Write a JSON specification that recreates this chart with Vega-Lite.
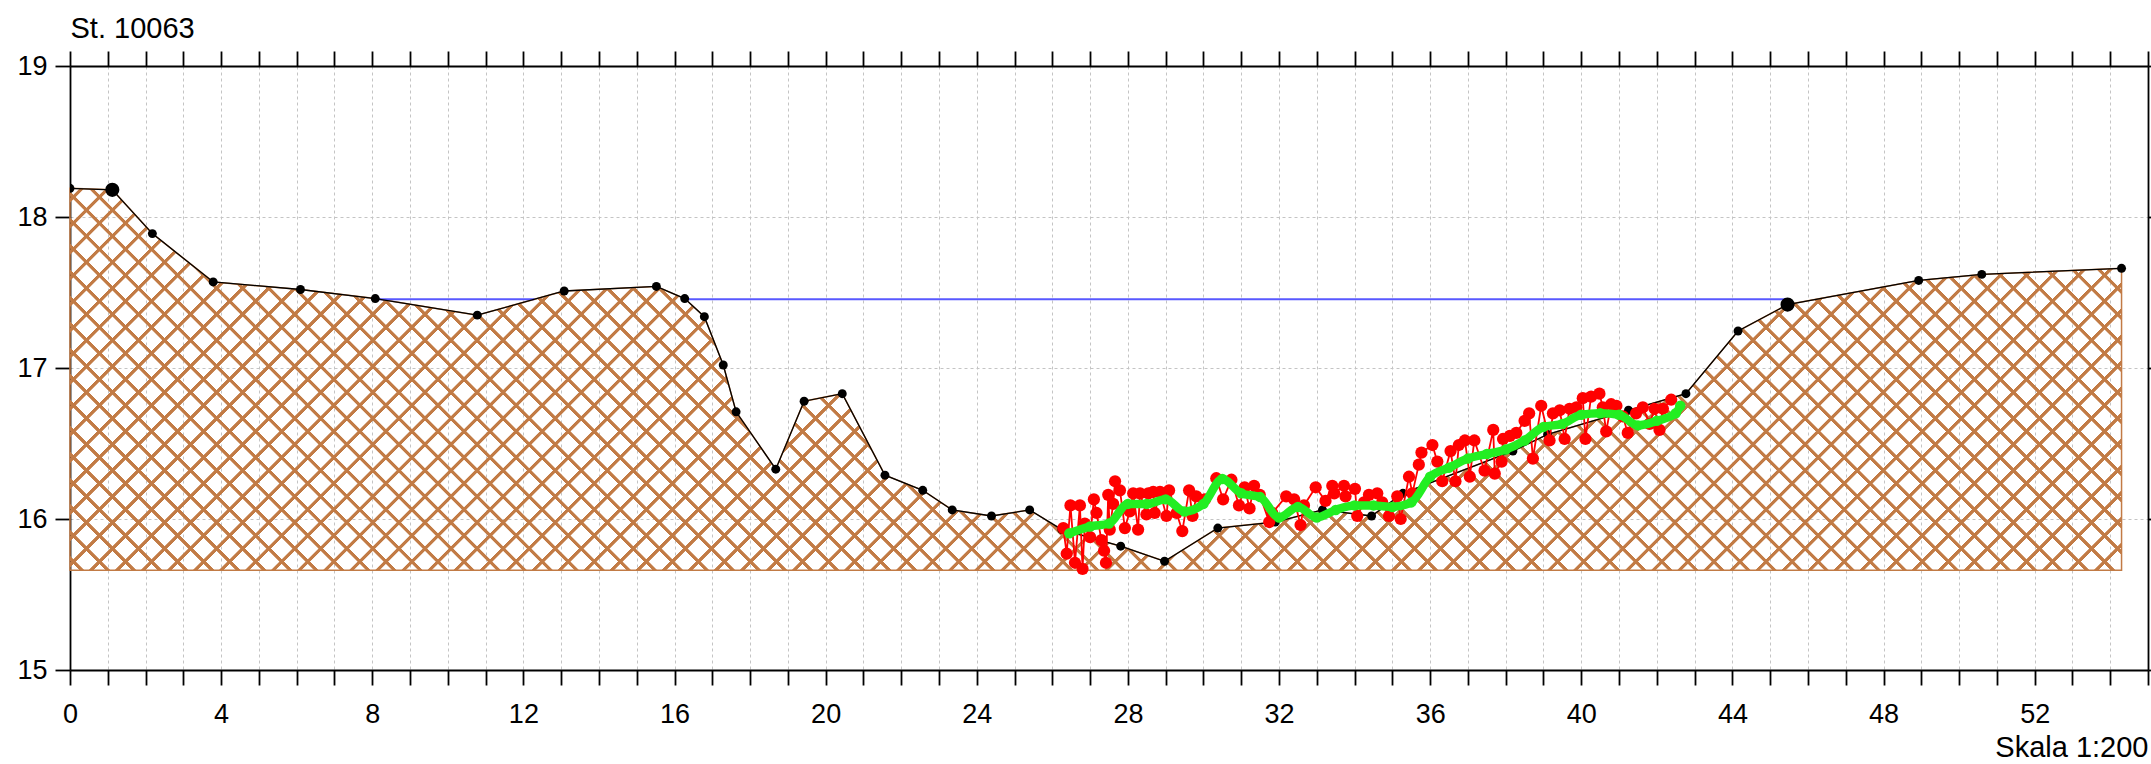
{
"$schema":"https://vega.github.io/schema/vega-lite/v6.json",
"width":2078,"height":604,
"autosize":{"type":"none"},
"padding":{"left":70,"top":66,"right":3,"bottom":94},
"background":"white",
"config":{"view":{"stroke":null},"font":"Liberation Sans",
"axis":{"domainColor":"#000000","domainWidth":1.8,"tickColor":"#000000","tickWidth":1.8,"labelFont":"Liberation Sans","labelFontSize":27,"labelColor":"#000000","titleFont":"Liberation Sans","titleColor":"#000000","gridColor":"#c4c4c4","gridDash":[3,3],"gridWidth":1}},
"datasets":{
"terrain":[{"x":0,"y":18.19,"b":0},{"x":1.12,"y":18.18,"b":1},{"x":2.18,"y":17.89,"b":0},{"x":3.79,"y":17.57,"b":0},{"x":6.1,"y":17.52,"b":0},{"x":8.08,"y":17.46,"b":0},{"x":10.78,"y":17.35,"b":0},{"x":13.08,"y":17.51,"b":0},{"x":15.52,"y":17.54,"b":0},{"x":16.27,"y":17.46,"b":0},{"x":16.79,"y":17.34,"b":0},{"x":17.29,"y":17.02,"b":0},{"x":17.63,"y":16.71,"b":0},{"x":18.68,"y":16.33,"b":0},{"x":19.43,"y":16.78,"b":0},{"x":20.44,"y":16.83,"b":0},{"x":21.57,"y":16.29,"b":0},{"x":22.57,"y":16.19,"b":0},{"x":23.35,"y":16.06,"b":0},{"x":24.39,"y":16.02,"b":0},{"x":25.4,"y":16.06,"b":0},{"x":26.25,"y":15.93,"b":0},{"x":27.81,"y":15.82,"b":0},{"x":28.97,"y":15.72,"b":0},{"x":30.38,"y":15.94,"b":0},{"x":31.9,"y":15.98,"b":0},{"x":33.15,"y":16.06,"b":0},{"x":34.45,"y":16.02,"b":0},{"x":35.28,"y":16.17,"b":0},{"x":38.19,"y":16.45,"b":0},{"x":39.11,"y":16.56,"b":0},{"x":41.25,"y":16.72,"b":0},{"x":42.77,"y":16.83,"b":0},{"x":44.15,"y":17.245,"b":0},{"x":45.46,"y":17.42,"b":1},{"x":48.93,"y":17.58,"b":0},{"x":50.6,"y":17.62,"b":0},{"x":54.3,"y":17.66,"b":0}],
"water":[{"x":8.08,"y":17.455,"s":1},{"x":12.29,"y":17.455,"s":1},{"x":16.27,"y":17.455,"s":2},{"x":45.46,"y":17.455,"s":2}],
"red":[{"x":26.29,"y":15.94},{"x":26.38,"y":15.77},{"x":26.48,"y":16.09},{"x":26.6,"y":15.71},{"x":26.73,"y":16.09},{"x":26.8,"y":15.67},{"x":26.86,"y":15.97},{"x":27.0,"y":15.88},{"x":27.1,"y":16.13},{"x":27.17,"y":16.04},{"x":27.3,"y":15.86},{"x":27.37,"y":15.79},{"x":27.42,"y":15.71},{"x":27.48,"y":16.16},{"x":27.52,"y":15.93},{"x":27.61,"y":16.1},{"x":27.66,"y":16.25},{"x":27.79,"y":16.19},{"x":27.92,"y":15.94},{"x":28.05,"y":16.05},{"x":28.14,"y":16.17},{"x":28.27,"y":15.93},{"x":28.32,"y":16.17},{"x":28.49,"y":16.03},{"x":28.54,"y":16.17},{"x":28.67,"y":16.18},{"x":28.71,"y":16.04},{"x":28.85,"y":16.18},{"x":29.02,"y":16.02},{"x":29.09,"y":16.19},{"x":29.29,"y":16.04},{"x":29.44,"y":15.92},{"x":29.62,"y":16.19},{"x":29.71,"y":16.02},{"x":29.81,"y":16.15},{"x":30.04,"y":16.13},{"x":30.34,"y":16.27},{"x":30.52,"y":16.13},{"x":30.74,"y":16.26},{"x":30.94,"y":16.09},{"x":31.09,"y":16.21},{"x":31.22,"y":16.07},{"x":31.34,"y":16.22},{"x":31.49,"y":16.16},{"x":31.74,"y":15.98},{"x":31.82,"y":16.04},{"x":32.19,"y":16.15},{"x":32.4,"y":16.13},{"x":32.57,"y":15.96},{"x":32.66,"y":16.09},{"x":32.97,"y":16.21},{"x":33.23,"y":16.12},{"x":33.41,"y":16.22},{"x":33.46,"y":16.17},{"x":33.72,"y":16.22},{"x":33.76,"y":16.15},{"x":34.01,"y":16.2},{"x":34.07,"y":16.02},{"x":34.25,"y":16.11},{"x":34.38,"y":16.16},{"x":34.6,"y":16.17},{"x":34.73,"y":16.11},{"x":34.91,"y":16.02},{"x":35.13,"y":16.15},{"x":35.22,"y":16.0},{"x":35.44,"y":16.28},{"x":35.53,"y":16.17},{"x":35.7,"y":16.36},{"x":35.77,"y":16.44},{"x":36.06,"y":16.49},{"x":36.19,"y":16.38},{"x":36.32,"y":16.25},{"x":36.54,"y":16.45},{"x":36.67,"y":16.25},{"x":36.76,"y":16.49},{"x":36.92,"y":16.52},{"x":37.05,"y":16.28},{"x":37.17,"y":16.52},{"x":37.44,"y":16.32},{"x":37.67,"y":16.59},{"x":37.71,"y":16.3},{"x":37.89,"y":16.38},{"x":37.93,"y":16.53},{"x":38.11,"y":16.55},{"x":38.28,"y":16.57},{"x":38.5,"y":16.65},{"x":38.62,"y":16.7},{"x":38.72,"y":16.4},{"x":38.94,"y":16.75},{"x":39.16,"y":16.52},{"x":39.25,"y":16.7},{"x":39.43,"y":16.72},{"x":39.56,"y":16.53},{"x":39.69,"y":16.73},{"x":39.87,"y":16.74},{"x":40.04,"y":16.8},{"x":40.11,"y":16.53},{"x":40.26,"y":16.81},{"x":40.48,"y":16.83},{"x":40.57,"y":16.74},{"x":40.66,"y":16.58},{"x":40.79,"y":16.76},{"x":40.93,"y":16.75},{"x":41.1,"y":16.68},{"x":41.23,"y":16.57},{"x":41.45,"y":16.7},{"x":41.63,"y":16.74},{"x":41.81,"y":16.63},{"x":41.94,"y":16.73},{"x":42.07,"y":16.59},{"x":42.16,"y":16.73},{"x":42.38,"y":16.79}],
"green":[{"x":26.45,"y":15.905},{"x":27.0,"y":15.95},{"x":27.5,"y":15.97},{"x":28.0,"y":16.1},{"x":28.5,"y":16.1},{"x":29.0,"y":16.13},{"x":29.5,"y":16.05},{"x":30.0,"y":16.1},{"x":30.5,"y":16.265},{"x":31.0,"y":16.17},{"x":31.5,"y":16.145},{"x":32.0,"y":16.01},{"x":32.5,"y":16.08},{"x":33.0,"y":16.01},{"x":33.5,"y":16.06},{"x":34.0,"y":16.09},{"x":34.5,"y":16.09},{"x":35.0,"y":16.08},{"x":35.5,"y":16.11},{"x":36.0,"y":16.28},{"x":36.5,"y":16.34},{"x":37.0,"y":16.4},{"x":37.5,"y":16.43},{"x":38.0,"y":16.46},{"x":38.5,"y":16.52},{"x":39.0,"y":16.61},{"x":39.5,"y":16.63},{"x":40.0,"y":16.69},{"x":40.5,"y":16.7},{"x":41.0,"y":16.69},{"x":41.5,"y":16.62},{"x":42.0,"y":16.65},{"x":42.5,"y":16.7},{"x":42.62,"y":16.75}]
},
"layer":[
{"data":{"name":"terrain"},
"mark":{"type":"area","stroke":"#c27b45","strokeWidth":1.5,"fill":{"gradient":"linear","x1":0,"y1":0,"x2":1.1465,"y2":0.2135,"stops":[
{"offset":0.0039,"color":"#c27b4500"},{"offset":0.0042,"color":"#c27b45"},{"offset":0.0058,"color":"#c27b45"},{"offset":0.0061,"color":"#c27b4500"},
{"offset":0.0146,"color":"#c27b4500"},{"offset":0.0149,"color":"#c27b45"},{"offset":0.0165,"color":"#c27b45"},{"offset":0.0168,"color":"#c27b4500"},
{"offset":0.0253,"color":"#c27b4500"},{"offset":0.0256,"color":"#c27b45"},{"offset":0.0272,"color":"#c27b45"},{"offset":0.0275,"color":"#c27b4500"},
{"offset":0.036,"color":"#c27b4500"},{"offset":0.0363,"color":"#c27b45"},{"offset":0.0379,"color":"#c27b45"},{"offset":0.0382,"color":"#c27b4500"},
{"offset":0.0467,"color":"#c27b4500"},{"offset":0.047,"color":"#c27b45"},{"offset":0.0486,"color":"#c27b45"},{"offset":0.0489,"color":"#c27b4500"},
{"offset":0.0574,"color":"#c27b4500"},{"offset":0.0577,"color":"#c27b45"},{"offset":0.0593,"color":"#c27b45"},{"offset":0.0596,"color":"#c27b4500"},
{"offset":0.0681,"color":"#c27b4500"},{"offset":0.0684,"color":"#c27b45"},{"offset":0.07,"color":"#c27b45"},{"offset":0.0703,"color":"#c27b4500"},
{"offset":0.0788,"color":"#c27b4500"},{"offset":0.0791,"color":"#c27b45"},{"offset":0.0807,"color":"#c27b45"},{"offset":0.081,"color":"#c27b4500"},
{"offset":0.0895,"color":"#c27b4500"},{"offset":0.0898,"color":"#c27b45"},{"offset":0.0914,"color":"#c27b45"},{"offset":0.0917,"color":"#c27b4500"},
{"offset":0.1002,"color":"#c27b4500"},{"offset":0.1005,"color":"#c27b45"},{"offset":0.1021,"color":"#c27b45"},{"offset":0.1024,"color":"#c27b4500"},
{"offset":0.1109,"color":"#c27b4500"},{"offset":0.1112,"color":"#c27b45"},{"offset":0.1128,"color":"#c27b45"},{"offset":0.1131,"color":"#c27b4500"},
{"offset":0.1216,"color":"#c27b4500"},{"offset":0.1219,"color":"#c27b45"},{"offset":0.1235,"color":"#c27b45"},{"offset":0.1238,"color":"#c27b4500"},
{"offset":0.1323,"color":"#c27b4500"},{"offset":0.1326,"color":"#c27b45"},{"offset":0.1342,"color":"#c27b45"},{"offset":0.1345,"color":"#c27b4500"},
{"offset":0.143,"color":"#c27b4500"},{"offset":0.1433,"color":"#c27b45"},{"offset":0.1449,"color":"#c27b45"},{"offset":0.1452,"color":"#c27b4500"},
{"offset":0.1537,"color":"#c27b4500"},{"offset":0.154,"color":"#c27b45"},{"offset":0.1556,"color":"#c27b45"},{"offset":0.1559,"color":"#c27b4500"},
{"offset":0.1644,"color":"#c27b4500"},{"offset":0.1647,"color":"#c27b45"},{"offset":0.1663,"color":"#c27b45"},{"offset":0.1666,"color":"#c27b4500"},
{"offset":0.1751,"color":"#c27b4500"},{"offset":0.1754,"color":"#c27b45"},{"offset":0.177,"color":"#c27b45"},{"offset":0.1773,"color":"#c27b4500"},
{"offset":0.1858,"color":"#c27b4500"},{"offset":0.1861,"color":"#c27b45"},{"offset":0.1877,"color":"#c27b45"},{"offset":0.188,"color":"#c27b4500"},
{"offset":0.1965,"color":"#c27b4500"},{"offset":0.1968,"color":"#c27b45"},{"offset":0.1984,"color":"#c27b45"},{"offset":0.1987,"color":"#c27b4500"},
{"offset":0.2072,"color":"#c27b4500"},{"offset":0.2075,"color":"#c27b45"},{"offset":0.2091,"color":"#c27b45"},{"offset":0.2094,"color":"#c27b4500"},
{"offset":0.2179,"color":"#c27b4500"},{"offset":0.2182,"color":"#c27b45"},{"offset":0.2198,"color":"#c27b45"},{"offset":0.2201,"color":"#c27b4500"},
{"offset":0.2286,"color":"#c27b4500"},{"offset":0.2289,"color":"#c27b45"},{"offset":0.2305,"color":"#c27b45"},{"offset":0.2308,"color":"#c27b4500"},
{"offset":0.2393,"color":"#c27b4500"},{"offset":0.2396,"color":"#c27b45"},{"offset":0.2412,"color":"#c27b45"},{"offset":0.2415,"color":"#c27b4500"},
{"offset":0.25,"color":"#c27b4500"},{"offset":0.2503,"color":"#c27b45"},{"offset":0.2519,"color":"#c27b45"},{"offset":0.2522,"color":"#c27b4500"},
{"offset":0.2607,"color":"#c27b4500"},{"offset":0.261,"color":"#c27b45"},{"offset":0.2626,"color":"#c27b45"},{"offset":0.2629,"color":"#c27b4500"},
{"offset":0.2714,"color":"#c27b4500"},{"offset":0.2717,"color":"#c27b45"},{"offset":0.2733,"color":"#c27b45"},{"offset":0.2736,"color":"#c27b4500"},
{"offset":0.2821,"color":"#c27b4500"},{"offset":0.2824,"color":"#c27b45"},{"offset":0.284,"color":"#c27b45"},{"offset":0.2843,"color":"#c27b4500"},
{"offset":0.2928,"color":"#c27b4500"},{"offset":0.2931,"color":"#c27b45"},{"offset":0.2947,"color":"#c27b45"},{"offset":0.295,"color":"#c27b4500"},
{"offset":0.3035,"color":"#c27b4500"},{"offset":0.3038,"color":"#c27b45"},{"offset":0.3054,"color":"#c27b45"},{"offset":0.3057,"color":"#c27b4500"},
{"offset":0.3142,"color":"#c27b4500"},{"offset":0.3145,"color":"#c27b45"},{"offset":0.3161,"color":"#c27b45"},{"offset":0.3164,"color":"#c27b4500"},
{"offset":0.3249,"color":"#c27b4500"},{"offset":0.3252,"color":"#c27b45"},{"offset":0.3268,"color":"#c27b45"},{"offset":0.3271,"color":"#c27b4500"},
{"offset":0.3356,"color":"#c27b4500"},{"offset":0.3359,"color":"#c27b45"},{"offset":0.3375,"color":"#c27b45"},{"offset":0.3378,"color":"#c27b4500"},
{"offset":0.3463,"color":"#c27b4500"},{"offset":0.3466,"color":"#c27b45"},{"offset":0.3482,"color":"#c27b45"},{"offset":0.3485,"color":"#c27b4500"},
{"offset":0.357,"color":"#c27b4500"},{"offset":0.3573,"color":"#c27b45"},{"offset":0.3589,"color":"#c27b45"},{"offset":0.3592,"color":"#c27b4500"},
{"offset":0.3677,"color":"#c27b4500"},{"offset":0.368,"color":"#c27b45"},{"offset":0.3696,"color":"#c27b45"},{"offset":0.3699,"color":"#c27b4500"},
{"offset":0.3784,"color":"#c27b4500"},{"offset":0.3787,"color":"#c27b45"},{"offset":0.3803,"color":"#c27b45"},{"offset":0.3806,"color":"#c27b4500"},
{"offset":0.3891,"color":"#c27b4500"},{"offset":0.3894,"color":"#c27b45"},{"offset":0.391,"color":"#c27b45"},{"offset":0.3913,"color":"#c27b4500"},
{"offset":0.3998,"color":"#c27b4500"},{"offset":0.4001,"color":"#c27b45"},{"offset":0.4017,"color":"#c27b45"},{"offset":0.402,"color":"#c27b4500"},
{"offset":0.4105,"color":"#c27b4500"},{"offset":0.4108,"color":"#c27b45"},{"offset":0.4124,"color":"#c27b45"},{"offset":0.4127,"color":"#c27b4500"},
{"offset":0.4212,"color":"#c27b4500"},{"offset":0.4215,"color":"#c27b45"},{"offset":0.4231,"color":"#c27b45"},{"offset":0.4234,"color":"#c27b4500"},
{"offset":0.4319,"color":"#c27b4500"},{"offset":0.4322,"color":"#c27b45"},{"offset":0.4338,"color":"#c27b45"},{"offset":0.4341,"color":"#c27b4500"},
{"offset":0.4426,"color":"#c27b4500"},{"offset":0.4429,"color":"#c27b45"},{"offset":0.4445,"color":"#c27b45"},{"offset":0.4448,"color":"#c27b4500"},
{"offset":0.4533,"color":"#c27b4500"},{"offset":0.4536,"color":"#c27b45"},{"offset":0.4552,"color":"#c27b45"},{"offset":0.4555,"color":"#c27b4500"},
{"offset":0.464,"color":"#c27b4500"},{"offset":0.4643,"color":"#c27b45"},{"offset":0.4659,"color":"#c27b45"},{"offset":0.4662,"color":"#c27b4500"},
{"offset":0.4747,"color":"#c27b4500"},{"offset":0.475,"color":"#c27b45"},{"offset":0.4766,"color":"#c27b45"},{"offset":0.4769,"color":"#c27b4500"},
{"offset":0.4854,"color":"#c27b4500"},{"offset":0.4857,"color":"#c27b45"},{"offset":0.4873,"color":"#c27b45"},{"offset":0.4876,"color":"#c27b4500"},
{"offset":0.4961,"color":"#c27b4500"},{"offset":0.4964,"color":"#c27b45"},{"offset":0.498,"color":"#c27b45"},{"offset":0.4983,"color":"#c27b4500"},
{"offset":0.5068,"color":"#c27b4500"},{"offset":0.5071,"color":"#c27b45"},{"offset":0.5087,"color":"#c27b45"},{"offset":0.509,"color":"#c27b4500"},
{"offset":0.5175,"color":"#c27b4500"},{"offset":0.5178,"color":"#c27b45"},{"offset":0.5194,"color":"#c27b45"},{"offset":0.5197,"color":"#c27b4500"},
{"offset":0.5282,"color":"#c27b4500"},{"offset":0.5285,"color":"#c27b45"},{"offset":0.5301,"color":"#c27b45"},{"offset":0.5304,"color":"#c27b4500"},
{"offset":0.5389,"color":"#c27b4500"},{"offset":0.5392,"color":"#c27b45"},{"offset":0.5408,"color":"#c27b45"},{"offset":0.5411,"color":"#c27b4500"},
{"offset":0.5496,"color":"#c27b4500"},{"offset":0.5499,"color":"#c27b45"},{"offset":0.5515,"color":"#c27b45"},{"offset":0.5518,"color":"#c27b4500"},
{"offset":0.5603,"color":"#c27b4500"},{"offset":0.5606,"color":"#c27b45"},{"offset":0.5622,"color":"#c27b45"},{"offset":0.5625,"color":"#c27b4500"},
{"offset":0.571,"color":"#c27b4500"},{"offset":0.5713,"color":"#c27b45"},{"offset":0.5729,"color":"#c27b45"},{"offset":0.5732,"color":"#c27b4500"},
{"offset":0.5817,"color":"#c27b4500"},{"offset":0.582,"color":"#c27b45"},{"offset":0.5836,"color":"#c27b45"},{"offset":0.5839,"color":"#c27b4500"},
{"offset":0.5924,"color":"#c27b4500"},{"offset":0.5927,"color":"#c27b45"},{"offset":0.5943,"color":"#c27b45"},{"offset":0.5946,"color":"#c27b4500"},
{"offset":0.6031,"color":"#c27b4500"},{"offset":0.6034,"color":"#c27b45"},{"offset":0.605,"color":"#c27b45"},{"offset":0.6053,"color":"#c27b4500"},
{"offset":0.6138,"color":"#c27b4500"},{"offset":0.6141,"color":"#c27b45"},{"offset":0.6157,"color":"#c27b45"},{"offset":0.616,"color":"#c27b4500"},
{"offset":0.6245,"color":"#c27b4500"},{"offset":0.6248,"color":"#c27b45"},{"offset":0.6264,"color":"#c27b45"},{"offset":0.6267,"color":"#c27b4500"},
{"offset":0.6352,"color":"#c27b4500"},{"offset":0.6355,"color":"#c27b45"},{"offset":0.6371,"color":"#c27b45"},{"offset":0.6374,"color":"#c27b4500"},
{"offset":0.6459,"color":"#c27b4500"},{"offset":0.6462,"color":"#c27b45"},{"offset":0.6478,"color":"#c27b45"},{"offset":0.6481,"color":"#c27b4500"},
{"offset":0.6566,"color":"#c27b4500"},{"offset":0.6569,"color":"#c27b45"},{"offset":0.6585,"color":"#c27b45"},{"offset":0.6588,"color":"#c27b4500"},
{"offset":0.6673,"color":"#c27b4500"},{"offset":0.6676,"color":"#c27b45"},{"offset":0.6692,"color":"#c27b45"},{"offset":0.6695,"color":"#c27b4500"},
{"offset":0.678,"color":"#c27b4500"},{"offset":0.6783,"color":"#c27b45"},{"offset":0.6799,"color":"#c27b45"},{"offset":0.6802,"color":"#c27b4500"},
{"offset":0.6887,"color":"#c27b4500"},{"offset":0.689,"color":"#c27b45"},{"offset":0.6906,"color":"#c27b45"},{"offset":0.6909,"color":"#c27b4500"},
{"offset":0.6994,"color":"#c27b4500"},{"offset":0.6997,"color":"#c27b45"},{"offset":0.7013,"color":"#c27b45"},{"offset":0.7016,"color":"#c27b4500"},
{"offset":0.7101,"color":"#c27b4500"},{"offset":0.7104,"color":"#c27b45"},{"offset":0.712,"color":"#c27b45"},{"offset":0.7123,"color":"#c27b4500"},
{"offset":0.7208,"color":"#c27b4500"},{"offset":0.7211,"color":"#c27b45"},{"offset":0.7227,"color":"#c27b45"},{"offset":0.723,"color":"#c27b4500"},
{"offset":0.7315,"color":"#c27b4500"},{"offset":0.7318,"color":"#c27b45"},{"offset":0.7334,"color":"#c27b45"},{"offset":0.7337,"color":"#c27b4500"},
{"offset":0.7422,"color":"#c27b4500"},{"offset":0.7425,"color":"#c27b45"},{"offset":0.7441,"color":"#c27b45"},{"offset":0.7444,"color":"#c27b4500"},
{"offset":0.7529,"color":"#c27b4500"},{"offset":0.7532,"color":"#c27b45"},{"offset":0.7548,"color":"#c27b45"},{"offset":0.7551,"color":"#c27b4500"},
{"offset":0.7636,"color":"#c27b4500"},{"offset":0.7639,"color":"#c27b45"},{"offset":0.7655,"color":"#c27b45"},{"offset":0.7658,"color":"#c27b4500"},
{"offset":0.7743,"color":"#c27b4500"},{"offset":0.7746,"color":"#c27b45"},{"offset":0.7762,"color":"#c27b45"},{"offset":0.7765,"color":"#c27b4500"},
{"offset":0.785,"color":"#c27b4500"},{"offset":0.7853,"color":"#c27b45"},{"offset":0.7869,"color":"#c27b45"},{"offset":0.7872,"color":"#c27b4500"},
{"offset":0.7957,"color":"#c27b4500"},{"offset":0.796,"color":"#c27b45"},{"offset":0.7976,"color":"#c27b45"},{"offset":0.7979,"color":"#c27b4500"},
{"offset":0.8064,"color":"#c27b4500"},{"offset":0.8067,"color":"#c27b45"},{"offset":0.8083,"color":"#c27b45"},{"offset":0.8086,"color":"#c27b4500"},
{"offset":0.8171,"color":"#c27b4500"},{"offset":0.8174,"color":"#c27b45"},{"offset":0.819,"color":"#c27b45"},{"offset":0.8193,"color":"#c27b4500"},
{"offset":0.8278,"color":"#c27b4500"},{"offset":0.8281,"color":"#c27b45"},{"offset":0.8297,"color":"#c27b45"},{"offset":0.83,"color":"#c27b4500"},
{"offset":0.8385,"color":"#c27b4500"},{"offset":0.8388,"color":"#c27b45"},{"offset":0.8404,"color":"#c27b45"},{"offset":0.8407,"color":"#c27b4500"},
{"offset":0.8492,"color":"#c27b4500"},{"offset":0.8495,"color":"#c27b45"},{"offset":0.8511,"color":"#c27b45"},{"offset":0.8514,"color":"#c27b4500"},
{"offset":0.8599,"color":"#c27b4500"},{"offset":0.8602,"color":"#c27b45"},{"offset":0.8618,"color":"#c27b45"},{"offset":0.8621,"color":"#c27b4500"},
{"offset":0.8706,"color":"#c27b4500"},{"offset":0.8709,"color":"#c27b45"},{"offset":0.8725,"color":"#c27b45"},{"offset":0.8728,"color":"#c27b4500"},
{"offset":0.8813,"color":"#c27b4500"},{"offset":0.8816,"color":"#c27b45"},{"offset":0.8832,"color":"#c27b45"},{"offset":0.8835,"color":"#c27b4500"},
{"offset":0.892,"color":"#c27b4500"},{"offset":0.8923,"color":"#c27b45"},{"offset":0.8939,"color":"#c27b45"},{"offset":0.8942,"color":"#c27b4500"},
{"offset":0.9027,"color":"#c27b4500"},{"offset":0.903,"color":"#c27b45"},{"offset":0.9046,"color":"#c27b45"},{"offset":0.9049,"color":"#c27b4500"},
{"offset":0.9134,"color":"#c27b4500"},{"offset":0.9137,"color":"#c27b45"},{"offset":0.9153,"color":"#c27b45"},{"offset":0.9156,"color":"#c27b4500"},
{"offset":0.9241,"color":"#c27b4500"},{"offset":0.9244,"color":"#c27b45"},{"offset":0.926,"color":"#c27b45"},{"offset":0.9263,"color":"#c27b4500"},
{"offset":0.9348,"color":"#c27b4500"},{"offset":0.9351,"color":"#c27b45"},{"offset":0.9367,"color":"#c27b45"},{"offset":0.937,"color":"#c27b4500"},
{"offset":0.9455,"color":"#c27b4500"},{"offset":0.9458,"color":"#c27b45"},{"offset":0.9474,"color":"#c27b45"},{"offset":0.9477,"color":"#c27b4500"},
{"offset":0.9562,"color":"#c27b4500"},{"offset":0.9565,"color":"#c27b45"},{"offset":0.9581,"color":"#c27b45"},{"offset":0.9584,"color":"#c27b4500"},
{"offset":0.9669,"color":"#c27b4500"},{"offset":0.9672,"color":"#c27b45"},{"offset":0.9688,"color":"#c27b45"},{"offset":0.9691,"color":"#c27b4500"},
{"offset":0.9776,"color":"#c27b4500"},{"offset":0.9779,"color":"#c27b45"},{"offset":0.9795,"color":"#c27b45"},{"offset":0.9798,"color":"#c27b4500"},
{"offset":0.9883,"color":"#c27b4500"},{"offset":0.9886,"color":"#c27b45"},{"offset":0.9902,"color":"#c27b45"},{"offset":0.9905,"color":"#c27b4500"}
]}},
"encoding":{
"x":{"field":"x","type":"quantitative","scale":{"domain":[0,55],"nice":false,"zero":false},"axis":{"orient":"bottom","values":[0,1,2,3,4,5,6,7,8,9,10,11,12,13,14,15,16,17,18,19,20,21,22,23,24,25,26,27,28,29,30,31,32,33,34,35,36,37,38,39,40,41,42,43,44,45,46,47,48,49,50,51,52,53,54,55],"format":"d","labelExpr":"datum.value % 4 === 0 ? datum.label : ''","labelBaseline":"alphabetic","labelPadding":37,"labelFlush":false,"labelOverlap":false,"grid":true,"tickSize":15,"title":"Skala 1:200","titleX":2078,"titleY":86,"titleAlign":"right","titleAnchor":"end","titleBaseline":"alphabetic","titleFontSize":29,"titleFontWeight":"normal"}},
"y":{"field":"y","type":"quantitative","scale":{"domain":[15,19],"nice":false,"zero":false},"axis":{"orient":"left","values":[15,16,17,18,19],"format":"d","grid":true,"tickSize":15,"labelPadding":8,"labelFlush":false,"title":null}},
"y2":{"datum":15.66}}},
{"data":{"name":"terrain"},
"mark":{"type":"area","fill":{"gradient":"linear","x1":0,"y1":1,"x2":1.1465,"y2":0.7865,"stops":[
{"offset":0.0039,"color":"#c27b4500"},{"offset":0.0042,"color":"#c27b45"},{"offset":0.0058,"color":"#c27b45"},{"offset":0.0061,"color":"#c27b4500"},
{"offset":0.0146,"color":"#c27b4500"},{"offset":0.0149,"color":"#c27b45"},{"offset":0.0165,"color":"#c27b45"},{"offset":0.0168,"color":"#c27b4500"},
{"offset":0.0253,"color":"#c27b4500"},{"offset":0.0256,"color":"#c27b45"},{"offset":0.0272,"color":"#c27b45"},{"offset":0.0275,"color":"#c27b4500"},
{"offset":0.036,"color":"#c27b4500"},{"offset":0.0363,"color":"#c27b45"},{"offset":0.0379,"color":"#c27b45"},{"offset":0.0382,"color":"#c27b4500"},
{"offset":0.0467,"color":"#c27b4500"},{"offset":0.047,"color":"#c27b45"},{"offset":0.0486,"color":"#c27b45"},{"offset":0.0489,"color":"#c27b4500"},
{"offset":0.0574,"color":"#c27b4500"},{"offset":0.0577,"color":"#c27b45"},{"offset":0.0593,"color":"#c27b45"},{"offset":0.0596,"color":"#c27b4500"},
{"offset":0.0681,"color":"#c27b4500"},{"offset":0.0684,"color":"#c27b45"},{"offset":0.07,"color":"#c27b45"},{"offset":0.0703,"color":"#c27b4500"},
{"offset":0.0788,"color":"#c27b4500"},{"offset":0.0791,"color":"#c27b45"},{"offset":0.0807,"color":"#c27b45"},{"offset":0.081,"color":"#c27b4500"},
{"offset":0.0895,"color":"#c27b4500"},{"offset":0.0898,"color":"#c27b45"},{"offset":0.0914,"color":"#c27b45"},{"offset":0.0917,"color":"#c27b4500"},
{"offset":0.1002,"color":"#c27b4500"},{"offset":0.1005,"color":"#c27b45"},{"offset":0.1021,"color":"#c27b45"},{"offset":0.1024,"color":"#c27b4500"},
{"offset":0.1109,"color":"#c27b4500"},{"offset":0.1112,"color":"#c27b45"},{"offset":0.1128,"color":"#c27b45"},{"offset":0.1131,"color":"#c27b4500"},
{"offset":0.1216,"color":"#c27b4500"},{"offset":0.1219,"color":"#c27b45"},{"offset":0.1235,"color":"#c27b45"},{"offset":0.1238,"color":"#c27b4500"},
{"offset":0.1323,"color":"#c27b4500"},{"offset":0.1326,"color":"#c27b45"},{"offset":0.1342,"color":"#c27b45"},{"offset":0.1345,"color":"#c27b4500"},
{"offset":0.143,"color":"#c27b4500"},{"offset":0.1433,"color":"#c27b45"},{"offset":0.1449,"color":"#c27b45"},{"offset":0.1452,"color":"#c27b4500"},
{"offset":0.1537,"color":"#c27b4500"},{"offset":0.154,"color":"#c27b45"},{"offset":0.1556,"color":"#c27b45"},{"offset":0.1559,"color":"#c27b4500"},
{"offset":0.1644,"color":"#c27b4500"},{"offset":0.1647,"color":"#c27b45"},{"offset":0.1663,"color":"#c27b45"},{"offset":0.1666,"color":"#c27b4500"},
{"offset":0.1751,"color":"#c27b4500"},{"offset":0.1754,"color":"#c27b45"},{"offset":0.177,"color":"#c27b45"},{"offset":0.1773,"color":"#c27b4500"},
{"offset":0.1858,"color":"#c27b4500"},{"offset":0.1861,"color":"#c27b45"},{"offset":0.1877,"color":"#c27b45"},{"offset":0.188,"color":"#c27b4500"},
{"offset":0.1965,"color":"#c27b4500"},{"offset":0.1968,"color":"#c27b45"},{"offset":0.1984,"color":"#c27b45"},{"offset":0.1987,"color":"#c27b4500"},
{"offset":0.2072,"color":"#c27b4500"},{"offset":0.2075,"color":"#c27b45"},{"offset":0.2091,"color":"#c27b45"},{"offset":0.2094,"color":"#c27b4500"},
{"offset":0.2179,"color":"#c27b4500"},{"offset":0.2182,"color":"#c27b45"},{"offset":0.2198,"color":"#c27b45"},{"offset":0.2201,"color":"#c27b4500"},
{"offset":0.2286,"color":"#c27b4500"},{"offset":0.2289,"color":"#c27b45"},{"offset":0.2305,"color":"#c27b45"},{"offset":0.2308,"color":"#c27b4500"},
{"offset":0.2393,"color":"#c27b4500"},{"offset":0.2396,"color":"#c27b45"},{"offset":0.2412,"color":"#c27b45"},{"offset":0.2415,"color":"#c27b4500"},
{"offset":0.25,"color":"#c27b4500"},{"offset":0.2503,"color":"#c27b45"},{"offset":0.2519,"color":"#c27b45"},{"offset":0.2522,"color":"#c27b4500"},
{"offset":0.2607,"color":"#c27b4500"},{"offset":0.261,"color":"#c27b45"},{"offset":0.2626,"color":"#c27b45"},{"offset":0.2629,"color":"#c27b4500"},
{"offset":0.2714,"color":"#c27b4500"},{"offset":0.2717,"color":"#c27b45"},{"offset":0.2733,"color":"#c27b45"},{"offset":0.2736,"color":"#c27b4500"},
{"offset":0.2821,"color":"#c27b4500"},{"offset":0.2824,"color":"#c27b45"},{"offset":0.284,"color":"#c27b45"},{"offset":0.2843,"color":"#c27b4500"},
{"offset":0.2928,"color":"#c27b4500"},{"offset":0.2931,"color":"#c27b45"},{"offset":0.2947,"color":"#c27b45"},{"offset":0.295,"color":"#c27b4500"},
{"offset":0.3035,"color":"#c27b4500"},{"offset":0.3038,"color":"#c27b45"},{"offset":0.3054,"color":"#c27b45"},{"offset":0.3057,"color":"#c27b4500"},
{"offset":0.3142,"color":"#c27b4500"},{"offset":0.3145,"color":"#c27b45"},{"offset":0.3161,"color":"#c27b45"},{"offset":0.3164,"color":"#c27b4500"},
{"offset":0.3249,"color":"#c27b4500"},{"offset":0.3252,"color":"#c27b45"},{"offset":0.3268,"color":"#c27b45"},{"offset":0.3271,"color":"#c27b4500"},
{"offset":0.3356,"color":"#c27b4500"},{"offset":0.3359,"color":"#c27b45"},{"offset":0.3375,"color":"#c27b45"},{"offset":0.3378,"color":"#c27b4500"},
{"offset":0.3463,"color":"#c27b4500"},{"offset":0.3466,"color":"#c27b45"},{"offset":0.3482,"color":"#c27b45"},{"offset":0.3485,"color":"#c27b4500"},
{"offset":0.357,"color":"#c27b4500"},{"offset":0.3573,"color":"#c27b45"},{"offset":0.3589,"color":"#c27b45"},{"offset":0.3592,"color":"#c27b4500"},
{"offset":0.3677,"color":"#c27b4500"},{"offset":0.368,"color":"#c27b45"},{"offset":0.3696,"color":"#c27b45"},{"offset":0.3699,"color":"#c27b4500"},
{"offset":0.3784,"color":"#c27b4500"},{"offset":0.3787,"color":"#c27b45"},{"offset":0.3803,"color":"#c27b45"},{"offset":0.3806,"color":"#c27b4500"},
{"offset":0.3891,"color":"#c27b4500"},{"offset":0.3894,"color":"#c27b45"},{"offset":0.391,"color":"#c27b45"},{"offset":0.3913,"color":"#c27b4500"},
{"offset":0.3998,"color":"#c27b4500"},{"offset":0.4001,"color":"#c27b45"},{"offset":0.4017,"color":"#c27b45"},{"offset":0.402,"color":"#c27b4500"},
{"offset":0.4105,"color":"#c27b4500"},{"offset":0.4108,"color":"#c27b45"},{"offset":0.4124,"color":"#c27b45"},{"offset":0.4127,"color":"#c27b4500"},
{"offset":0.4212,"color":"#c27b4500"},{"offset":0.4215,"color":"#c27b45"},{"offset":0.4231,"color":"#c27b45"},{"offset":0.4234,"color":"#c27b4500"},
{"offset":0.4319,"color":"#c27b4500"},{"offset":0.4322,"color":"#c27b45"},{"offset":0.4338,"color":"#c27b45"},{"offset":0.4341,"color":"#c27b4500"},
{"offset":0.4426,"color":"#c27b4500"},{"offset":0.4429,"color":"#c27b45"},{"offset":0.4445,"color":"#c27b45"},{"offset":0.4448,"color":"#c27b4500"},
{"offset":0.4533,"color":"#c27b4500"},{"offset":0.4536,"color":"#c27b45"},{"offset":0.4552,"color":"#c27b45"},{"offset":0.4555,"color":"#c27b4500"},
{"offset":0.464,"color":"#c27b4500"},{"offset":0.4643,"color":"#c27b45"},{"offset":0.4659,"color":"#c27b45"},{"offset":0.4662,"color":"#c27b4500"},
{"offset":0.4747,"color":"#c27b4500"},{"offset":0.475,"color":"#c27b45"},{"offset":0.4766,"color":"#c27b45"},{"offset":0.4769,"color":"#c27b4500"},
{"offset":0.4854,"color":"#c27b4500"},{"offset":0.4857,"color":"#c27b45"},{"offset":0.4873,"color":"#c27b45"},{"offset":0.4876,"color":"#c27b4500"},
{"offset":0.4961,"color":"#c27b4500"},{"offset":0.4964,"color":"#c27b45"},{"offset":0.498,"color":"#c27b45"},{"offset":0.4983,"color":"#c27b4500"},
{"offset":0.5068,"color":"#c27b4500"},{"offset":0.5071,"color":"#c27b45"},{"offset":0.5087,"color":"#c27b45"},{"offset":0.509,"color":"#c27b4500"},
{"offset":0.5175,"color":"#c27b4500"},{"offset":0.5178,"color":"#c27b45"},{"offset":0.5194,"color":"#c27b45"},{"offset":0.5197,"color":"#c27b4500"},
{"offset":0.5282,"color":"#c27b4500"},{"offset":0.5285,"color":"#c27b45"},{"offset":0.5301,"color":"#c27b45"},{"offset":0.5304,"color":"#c27b4500"},
{"offset":0.5389,"color":"#c27b4500"},{"offset":0.5392,"color":"#c27b45"},{"offset":0.5408,"color":"#c27b45"},{"offset":0.5411,"color":"#c27b4500"},
{"offset":0.5496,"color":"#c27b4500"},{"offset":0.5499,"color":"#c27b45"},{"offset":0.5515,"color":"#c27b45"},{"offset":0.5518,"color":"#c27b4500"},
{"offset":0.5603,"color":"#c27b4500"},{"offset":0.5606,"color":"#c27b45"},{"offset":0.5622,"color":"#c27b45"},{"offset":0.5625,"color":"#c27b4500"},
{"offset":0.571,"color":"#c27b4500"},{"offset":0.5713,"color":"#c27b45"},{"offset":0.5729,"color":"#c27b45"},{"offset":0.5732,"color":"#c27b4500"},
{"offset":0.5817,"color":"#c27b4500"},{"offset":0.582,"color":"#c27b45"},{"offset":0.5836,"color":"#c27b45"},{"offset":0.5839,"color":"#c27b4500"},
{"offset":0.5924,"color":"#c27b4500"},{"offset":0.5927,"color":"#c27b45"},{"offset":0.5943,"color":"#c27b45"},{"offset":0.5946,"color":"#c27b4500"},
{"offset":0.6031,"color":"#c27b4500"},{"offset":0.6034,"color":"#c27b45"},{"offset":0.605,"color":"#c27b45"},{"offset":0.6053,"color":"#c27b4500"},
{"offset":0.6138,"color":"#c27b4500"},{"offset":0.6141,"color":"#c27b45"},{"offset":0.6157,"color":"#c27b45"},{"offset":0.616,"color":"#c27b4500"},
{"offset":0.6245,"color":"#c27b4500"},{"offset":0.6248,"color":"#c27b45"},{"offset":0.6264,"color":"#c27b45"},{"offset":0.6267,"color":"#c27b4500"},
{"offset":0.6352,"color":"#c27b4500"},{"offset":0.6355,"color":"#c27b45"},{"offset":0.6371,"color":"#c27b45"},{"offset":0.6374,"color":"#c27b4500"},
{"offset":0.6459,"color":"#c27b4500"},{"offset":0.6462,"color":"#c27b45"},{"offset":0.6478,"color":"#c27b45"},{"offset":0.6481,"color":"#c27b4500"},
{"offset":0.6566,"color":"#c27b4500"},{"offset":0.6569,"color":"#c27b45"},{"offset":0.6585,"color":"#c27b45"},{"offset":0.6588,"color":"#c27b4500"},
{"offset":0.6673,"color":"#c27b4500"},{"offset":0.6676,"color":"#c27b45"},{"offset":0.6692,"color":"#c27b45"},{"offset":0.6695,"color":"#c27b4500"},
{"offset":0.678,"color":"#c27b4500"},{"offset":0.6783,"color":"#c27b45"},{"offset":0.6799,"color":"#c27b45"},{"offset":0.6802,"color":"#c27b4500"},
{"offset":0.6887,"color":"#c27b4500"},{"offset":0.689,"color":"#c27b45"},{"offset":0.6906,"color":"#c27b45"},{"offset":0.6909,"color":"#c27b4500"},
{"offset":0.6994,"color":"#c27b4500"},{"offset":0.6997,"color":"#c27b45"},{"offset":0.7013,"color":"#c27b45"},{"offset":0.7016,"color":"#c27b4500"},
{"offset":0.7101,"color":"#c27b4500"},{"offset":0.7104,"color":"#c27b45"},{"offset":0.712,"color":"#c27b45"},{"offset":0.7123,"color":"#c27b4500"},
{"offset":0.7208,"color":"#c27b4500"},{"offset":0.7211,"color":"#c27b45"},{"offset":0.7227,"color":"#c27b45"},{"offset":0.723,"color":"#c27b4500"},
{"offset":0.7315,"color":"#c27b4500"},{"offset":0.7318,"color":"#c27b45"},{"offset":0.7334,"color":"#c27b45"},{"offset":0.7337,"color":"#c27b4500"},
{"offset":0.7422,"color":"#c27b4500"},{"offset":0.7425,"color":"#c27b45"},{"offset":0.7441,"color":"#c27b45"},{"offset":0.7444,"color":"#c27b4500"},
{"offset":0.7529,"color":"#c27b4500"},{"offset":0.7532,"color":"#c27b45"},{"offset":0.7548,"color":"#c27b45"},{"offset":0.7551,"color":"#c27b4500"},
{"offset":0.7636,"color":"#c27b4500"},{"offset":0.7639,"color":"#c27b45"},{"offset":0.7655,"color":"#c27b45"},{"offset":0.7658,"color":"#c27b4500"},
{"offset":0.7743,"color":"#c27b4500"},{"offset":0.7746,"color":"#c27b45"},{"offset":0.7762,"color":"#c27b45"},{"offset":0.7765,"color":"#c27b4500"},
{"offset":0.785,"color":"#c27b4500"},{"offset":0.7853,"color":"#c27b45"},{"offset":0.7869,"color":"#c27b45"},{"offset":0.7872,"color":"#c27b4500"},
{"offset":0.7957,"color":"#c27b4500"},{"offset":0.796,"color":"#c27b45"},{"offset":0.7976,"color":"#c27b45"},{"offset":0.7979,"color":"#c27b4500"},
{"offset":0.8064,"color":"#c27b4500"},{"offset":0.8067,"color":"#c27b45"},{"offset":0.8083,"color":"#c27b45"},{"offset":0.8086,"color":"#c27b4500"},
{"offset":0.8171,"color":"#c27b4500"},{"offset":0.8174,"color":"#c27b45"},{"offset":0.819,"color":"#c27b45"},{"offset":0.8193,"color":"#c27b4500"},
{"offset":0.8278,"color":"#c27b4500"},{"offset":0.8281,"color":"#c27b45"},{"offset":0.8297,"color":"#c27b45"},{"offset":0.83,"color":"#c27b4500"},
{"offset":0.8385,"color":"#c27b4500"},{"offset":0.8388,"color":"#c27b45"},{"offset":0.8404,"color":"#c27b45"},{"offset":0.8407,"color":"#c27b4500"},
{"offset":0.8492,"color":"#c27b4500"},{"offset":0.8495,"color":"#c27b45"},{"offset":0.8511,"color":"#c27b45"},{"offset":0.8514,"color":"#c27b4500"},
{"offset":0.8599,"color":"#c27b4500"},{"offset":0.8602,"color":"#c27b45"},{"offset":0.8618,"color":"#c27b45"},{"offset":0.8621,"color":"#c27b4500"},
{"offset":0.8706,"color":"#c27b4500"},{"offset":0.8709,"color":"#c27b45"},{"offset":0.8725,"color":"#c27b45"},{"offset":0.8728,"color":"#c27b4500"},
{"offset":0.8813,"color":"#c27b4500"},{"offset":0.8816,"color":"#c27b45"},{"offset":0.8832,"color":"#c27b45"},{"offset":0.8835,"color":"#c27b4500"},
{"offset":0.892,"color":"#c27b4500"},{"offset":0.8923,"color":"#c27b45"},{"offset":0.8939,"color":"#c27b45"},{"offset":0.8942,"color":"#c27b4500"},
{"offset":0.9027,"color":"#c27b4500"},{"offset":0.903,"color":"#c27b45"},{"offset":0.9046,"color":"#c27b45"},{"offset":0.9049,"color":"#c27b4500"},
{"offset":0.9134,"color":"#c27b4500"},{"offset":0.9137,"color":"#c27b45"},{"offset":0.9153,"color":"#c27b45"},{"offset":0.9156,"color":"#c27b4500"},
{"offset":0.9241,"color":"#c27b4500"},{"offset":0.9244,"color":"#c27b45"},{"offset":0.926,"color":"#c27b45"},{"offset":0.9263,"color":"#c27b4500"},
{"offset":0.9348,"color":"#c27b4500"},{"offset":0.9351,"color":"#c27b45"},{"offset":0.9367,"color":"#c27b45"},{"offset":0.937,"color":"#c27b4500"},
{"offset":0.9455,"color":"#c27b4500"},{"offset":0.9458,"color":"#c27b45"},{"offset":0.9474,"color":"#c27b45"},{"offset":0.9477,"color":"#c27b4500"},
{"offset":0.9562,"color":"#c27b4500"},{"offset":0.9565,"color":"#c27b45"},{"offset":0.9581,"color":"#c27b45"},{"offset":0.9584,"color":"#c27b4500"},
{"offset":0.9669,"color":"#c27b4500"},{"offset":0.9672,"color":"#c27b45"},{"offset":0.9688,"color":"#c27b45"},{"offset":0.9691,"color":"#c27b4500"},
{"offset":0.9776,"color":"#c27b4500"},{"offset":0.9779,"color":"#c27b45"},{"offset":0.9795,"color":"#c27b45"},{"offset":0.9798,"color":"#c27b4500"},
{"offset":0.9883,"color":"#c27b4500"},{"offset":0.9886,"color":"#c27b45"},{"offset":0.9902,"color":"#c27b45"},{"offset":0.9905,"color":"#c27b4500"}
]}},
"encoding":{
"x":{"field":"x","type":"quantitative","scale":{"domain":[0,55],"nice":false,"zero":false},"axis":{"orient":"top","values":[0,1,2,3,4,5,6,7,8,9,10,11,12,13,14,15,16,17,18,19,20,21,22,23,24,25,26,27,28,29,30,31,32,33,34,35,36,37,38,39,40,41,42,43,44,45,46,47,48,49,50,51,52,53,54,55],"labels":false,"grid":false,"tickSize":15,"title":"St. 10063","titleX":0,"titleY":-29,"titleAlign":"left","titleAnchor":"start","titleBaseline":"alphabetic","titleFontSize":29,"titleFontWeight":"normal"}},
"y":{"field":"y","type":"quantitative","scale":{"domain":[15,19],"nice":false,"zero":false},"axis":{"orient":"right","values":[15,16,17,18,19],"labels":false,"grid":false,"tickSize":15,"title":null}},
"y2":{"datum":15.66}}},
{"data":{"name":"water"},"mark":{"type":"line","color":"#5858ff","strokeWidth":2},
"encoding":{"x":{"field":"x","type":"quantitative","scale":{"domain":[0,55]},"axis":null},"y":{"field":"y","type":"quantitative","scale":{"domain":[15,19]},"axis":null},"detail":{"field":"s","type":"nominal"}}},
{"data":{"name":"terrain"},"mark":{"type":"line","color":"#000000","strokeWidth":1.3},
"encoding":{"x":{"field":"x","type":"quantitative","scale":{"domain":[0,55]},"axis":null},"y":{"field":"y","type":"quantitative","scale":{"domain":[15,19]},"axis":null}}},
{"data":{"name":"terrain"},"mark":{"type":"circle","color":"#000000","opacity":1,"clip":true},
"encoding":{"x":{"field":"x","type":"quantitative","scale":{"domain":[0,55]},"axis":null},"y":{"field":"y","type":"quantitative","scale":{"domain":[15,19]},"axis":null},"size":{"field":"b","type":"quantitative","scale":{"domain":[0,1],"range":[80,200]},"legend":null}}},
{"data":{"name":"red"},"mark":{"type":"line","color":"#ff0000","strokeWidth":1.8},
"encoding":{"x":{"field":"x","type":"quantitative","scale":{"domain":[0,55]},"axis":null},"y":{"field":"y","type":"quantitative","scale":{"domain":[15,19]},"axis":null}}},
{"data":{"name":"red"},"mark":{"type":"circle","color":"#ff0000","opacity":1,"size":150},
"encoding":{"x":{"field":"x","type":"quantitative","scale":{"domain":[0,55]},"axis":null},"y":{"field":"y","type":"quantitative","scale":{"domain":[15,19]},"axis":null}}},
{"data":{"name":"green"},"mark":{"type":"line","color":"#22ee22","strokeWidth":8.5,"interpolate":"monotone"},
"encoding":{"x":{"field":"x","type":"quantitative","scale":{"domain":[0,55]},"axis":null},"y":{"field":"y","type":"quantitative","scale":{"domain":[15,19]},"axis":null}}},
{"data":{"name":"green"},"mark":{"type":"circle","color":"#22ee22","opacity":1,"size":110},
"encoding":{"x":{"field":"x","type":"quantitative","scale":{"domain":[0,55]},"axis":null},"y":{"field":"y","type":"quantitative","scale":{"domain":[15,19]},"axis":null}}}
],
"resolve":{"axis":{"x":"independent","y":"independent"}}
}
